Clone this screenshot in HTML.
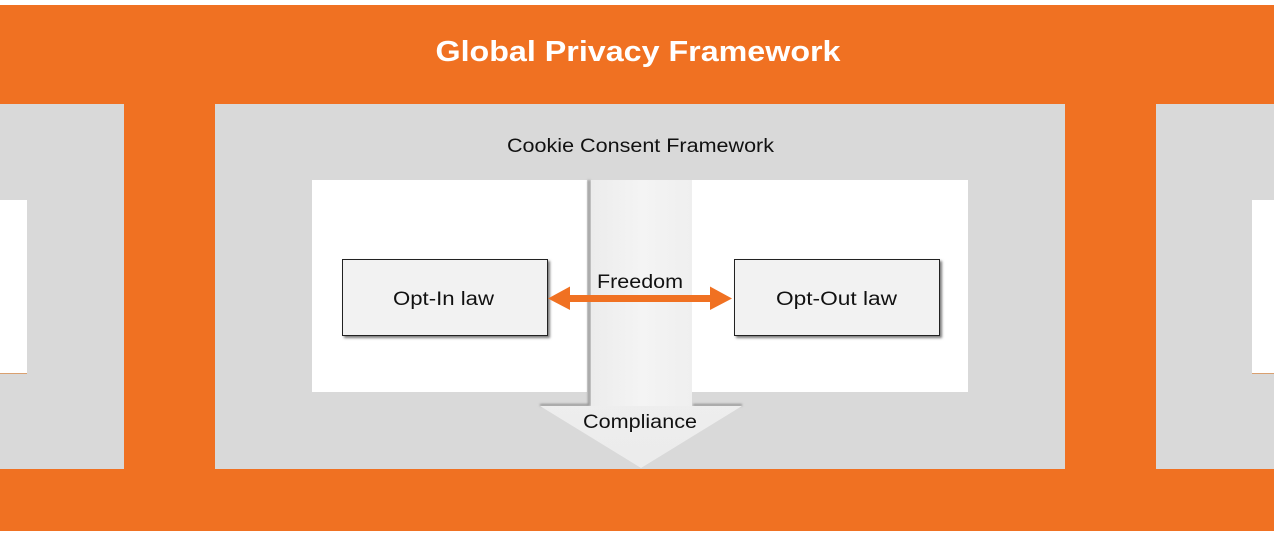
<!DOCTYPE html>
<html>
<head>
<meta charset="utf-8">
<style>
html,body{margin:0;padding:0;background:#fff;}
svg{display:block;}
text{font-family:"Liberation Sans",sans-serif;}
</style>
</head>
<body>
<svg width="1274" height="536" viewBox="0 0 1274 536" xmlns="http://www.w3.org/2000/svg">
  <defs>
    <linearGradient id="shaft" x1="0" y1="0" x2="1" y2="0">
      <stop offset="0" stop-color="#ececec"/>
      <stop offset="0.5" stop-color="#f4f4f4"/>
      <stop offset="1" stop-color="#efefef"/>
    </linearGradient>
    <linearGradient id="head" x1="0" y1="0" x2="0" y2="1">
      <stop offset="0" stop-color="#f3f3f3"/>
      <stop offset="1" stop-color="#ececec"/>
    </linearGradient>
    <filter id="blur1" x="-20%" y="-20%" width="140%" height="140%">
      <feGaussianBlur stdDeviation="1"/>
    </filter>
    <filter id="boxsh" x="-10%" y="-10%" width="130%" height="140%">
      <feGaussianBlur stdDeviation="1.2"/>
    </filter>
  </defs>

  <!-- background -->
  <rect x="0" y="0" width="1274" height="536" fill="#ffffff"/>
  <rect x="0" y="5" width="1274" height="526" fill="#f07122"/>

  <!-- gray panels -->
  <rect x="0" y="104" width="124" height="365" fill="#d9d9d9"/>
  <rect x="215" y="104" width="850" height="365" fill="#d9d9d9"/>
  <rect x="1156" y="104" width="118" height="365" fill="#d9d9d9"/>

  <!-- side white boxes -->
  <rect x="0" y="200" width="27" height="173" fill="#ffffff"/>
  <line x1="0" y1="373.5" x2="27" y2="373.5" stroke="#d9a070" stroke-width="1"/>
  <rect x="1252" y="200" width="22" height="173" fill="#ffffff"/>
  <line x1="1252" y1="373.5" x2="1274" y2="373.5" stroke="#d9a070" stroke-width="1"/>

  <!-- center white boxes -->
  <rect x="312" y="180" width="275" height="212" fill="#ffffff"/>
  <rect x="692" y="180" width="276" height="212" fill="#ffffff"/>

  <!-- compliance arrow shadow -->
  <g filter="url(#blur1)" fill="none" stroke="#8a8a8a" stroke-width="2">
    <polyline points="589,180 589,405 540,405"/>
    <line x1="693" y1="405" x2="742" y2="405"/>
  </g>
  <!-- compliance arrow -->
  <polygon points="591,180 692,180 692,406 742,406 641,468 540,406 591,406" fill="url(#head)"/>
  <rect x="591" y="180" width="101" height="226" fill="url(#shaft)"/>

  <!-- Opt boxes -->
  <rect x="344" y="261" width="206" height="77" fill="#7a7a7a" filter="url(#boxsh)"/>
  <rect x="342.5" y="259.5" width="205" height="76" fill="#f2f2f2" stroke="#222" stroke-width="1"/>
  <rect x="736" y="261" width="206" height="77" fill="#7a7a7a" filter="url(#boxsh)"/>
  <rect x="734.5" y="259.5" width="205" height="76" fill="#f2f2f2" stroke="#222" stroke-width="1"/>

  <!-- Freedom double arrow -->
  <polygon points="548,298.5 570,286.5 570,295 710,295 710,286.5 732,298.5 710,310 710,302 570,302 570,310" fill="#f07122"/>

  <!-- texts -->
  <text x="638" y="61" fill="#ffffff" font-size="29" font-weight="bold" text-anchor="middle" textLength="405" lengthAdjust="spacingAndGlyphs">Global Privacy Framework</text>
  <text x="640.5" y="152" fill="#111" font-size="19" text-anchor="middle" textLength="267" lengthAdjust="spacingAndGlyphs">Cookie Consent Framework</text>
  <text x="443.5" y="305" fill="#111" font-size="19" text-anchor="middle" textLength="101" lengthAdjust="spacingAndGlyphs">Opt-In law</text>
  <text x="836.5" y="305" fill="#111" font-size="19" text-anchor="middle" textLength="121" lengthAdjust="spacingAndGlyphs">Opt-Out law</text>
  <text x="640" y="288" fill="#111" font-size="19" text-anchor="middle" textLength="86" lengthAdjust="spacingAndGlyphs">Freedom</text>
  <text x="640" y="428" fill="#111" font-size="19" text-anchor="middle" textLength="114" lengthAdjust="spacingAndGlyphs">Compliance</text>
</svg>
</body>
</html>
